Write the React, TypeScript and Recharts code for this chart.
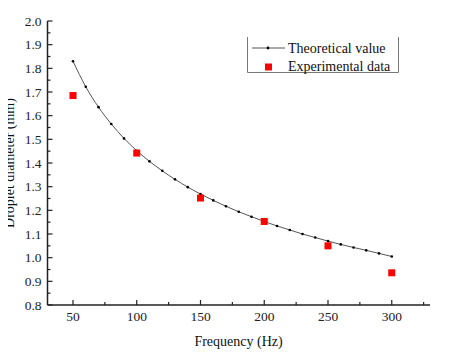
import React from "react";
import { ComposedChart, Line, Scatter, XAxis, YAxis } from "recharts";

// theoretical curve, every 10 Hz
const theoFreq = [
  50, 60, 70, 80, 90, 100, 110, 120, 130, 140, 150, 160, 170, 180, 190, 200,
  210, 220, 230, 240, 250, 260, 270, 280, 290, 300,
];
const theoDiameter = [
  1.83, 1.722, 1.636, 1.565, 1.504, 1.452, 1.407, 1.367, 1.331, 1.298, 1.269,
  1.242, 1.217, 1.194, 1.173, 1.153, 1.134, 1.117, 1.1, 1.085, 1.07, 1.056,
  1.043, 1.031, 1.018, 1.005,
];

// measured points
const expFreq = [50, 100, 150, 200, 250, 300];
const expDiameter = [1.685, 1.442, 1.252, 1.153, 1.05, 0.936];

const xTicks = [50, 75, 100, 125, 150, 175, 200, 225, 250, 275, 300, 325];
const yTicks = [
  0.8, 0.85, 0.9, 0.95, 1.0, 1.05, 1.1, 1.15, 1.2, 1.25, 1.3, 1.35, 1.4, 1.45,
  1.5, 1.55, 1.6, 1.65, 1.7, 1.75, 1.8, 1.85, 1.9, 1.95, 2.0,
];

const theoData = theoFreq.map((f, i) => ({ f, d: theoDiameter[i] }));
const expData = expFreq.map((f, i) => ({ f, d: expDiameter[i] }));

const FONT = "Liberation Serif, serif";
const AXIS = "#222";

const isMajorX = (v: number) => v % 50 === 0;
const isMajorY = (v: number) => Math.round(v * 100) % 10 === 0;

const BottomTick = (props: any) => {
  const { x, y, payload } = props;
  const major = isMajorX(payload.value);
  return (
    <g>
      <line x1={x} y1={y} x2={x} y2={y - (major ? 5 : 3)} stroke={AXIS} strokeWidth={1.2} />
      {major && (
        <text x={x} y={y + 16} textAnchor="middle" fontFamily={FONT} fontSize={13.5} fill="#222">
          {payload.value}
        </text>
      )}
    </g>
  );
};

const TopTick = (props: any) => {
  const { x, y, payload } = props;
  const major = isMajorX(payload.value);
  return <line x1={x} y1={y} x2={x} y2={y + (major ? 5 : 3)} stroke={AXIS} strokeWidth={1.2} />;
};

const LeftTick = (props: any) => {
  const { x, y, payload } = props;
  const major = isMajorY(payload.value);
  return (
    <g>
      <line x1={x} y1={y} x2={x + (major ? 5 : 3)} y2={y} stroke={AXIS} strokeWidth={1.2} />
      {major && (
        <text x={x - 6} y={y + 4.5} textAnchor="end" fontFamily={FONT} fontSize={13.5} fill="#222">
          {payload.value.toFixed(1)}
        </text>
      )}
    </g>
  );
};

const RightTick = (props: any) => {
  const { x, y, payload } = props;
  const major = isMajorY(payload.value);
  return <line x1={x} y1={y} x2={x - (major ? 5 : 3)} y2={y} stroke={AXIS} strokeWidth={1.2} />;
};

const square = (props: any) => (
  <rect x={props.cx - 3.5} y={props.cy - 3.5} width={7} height={7} fill="#ff0000" />
);

// legend and axis titles drawn over the chart
const Overlay = () => (
  <svg
    width={465}
    height={361}
    style={{ position: "absolute", left: 0, top: 0, pointerEvents: "none", overflow: "visible" }}
    fontFamily={FONT}
  >
    <g transform="translate(247,37)">
      <polyline points="0.5,0 0.5,35.5 151.5,35.5 151.5,0" fill="none" stroke="#777" strokeWidth={1} />
      <line x1={5} y1={11} x2={38} y2={11} stroke="#555" strokeWidth={1} />
      <circle cx={21} cy={11} r={1.4} fill="#000" />
      <text x={41} y={16} fontSize={14} fill="#111">
        Theoretical value
      </text>
      <rect x={18} y={26.5} width={7} height={7} fill="#ff0000" />
      <text x={41} y={34} fontSize={14} fill="#111">
        Experimental data
      </text>
    </g>
    <text x={238.5} y={346} textAnchor="middle" fontSize={14} fill="#111">
      Frequency (Hz)
    </text>
    <g transform="translate(14,163) rotate(-90)">
      <text x={0} y={0} textAnchor="middle" fontSize={14} fill="#111">
        Droplet diameter (mm)
      </text>
    </g>
  </svg>
);

export default function App() {
  return (
    <div
      style={{
        position: "relative",
        marginLeft: -8,
        marginTop: -8,
        width: 465,
        height: 361,
        background: "#fff",
      }}
    >
      <ComposedChart
        width={465}
        height={361}
        margin={{ top: 21, right: 35, bottom: 0, left: 0 }}
      >
        <XAxis
          dataKey="f"
          type="number"
          domain={[30, 330]}
          ticks={xTicks}
          interval={0}
          height={56}
          tickSize={0}
          tickMargin={0}
          tickLine={false}
          axisLine={{ stroke: AXIS, strokeWidth: 1.5 }}
          tick={BottomTick}
        />
        <XAxis
          xAxisId="top"
          orientation="top"
          dataKey="f"
          type="number"
          domain={[30, 330]}
          ticks={xTicks}
          interval={0}
          height={0}
          tickSize={0}
          tickMargin={0}
          tickLine={false}
          axisLine={{ stroke: AXIS, strokeWidth: 1.5 }}
          tick={TopTick}
        />
        <YAxis
          type="number"
          domain={[0.8, 2.0]}
          ticks={yTicks}
          interval={0}
          width={47.5}
          tickSize={0}
          tickMargin={0}
          tickLine={false}
          axisLine={{ stroke: AXIS, strokeWidth: 1.5 }}
          tick={LeftTick}
        />
        <YAxis
          yAxisId="right"
          orientation="right"
          type="number"
          domain={[0.8, 2.0]}
          ticks={yTicks}
          interval={0}
          width={0}
          tickSize={0}
          tickMargin={0}
          tickLine={false}
          axisLine={{ stroke: AXIS, strokeWidth: 1.5 }}
          tick={RightTick}
        />
        <Line
          data={theoData}
          dataKey="d"
          type="monotone"
          stroke="#555"
          strokeWidth={1}
          dot={{ r: 1.3, fill: "#000", stroke: "none" }}
          isAnimationActive={false}
        />
        <Scatter
          data={expData}
          dataKey="d"
          shape={square}
          isAnimationActive={false}
        />
      </ComposedChart>
      <Overlay />
    </div>
  );
}
